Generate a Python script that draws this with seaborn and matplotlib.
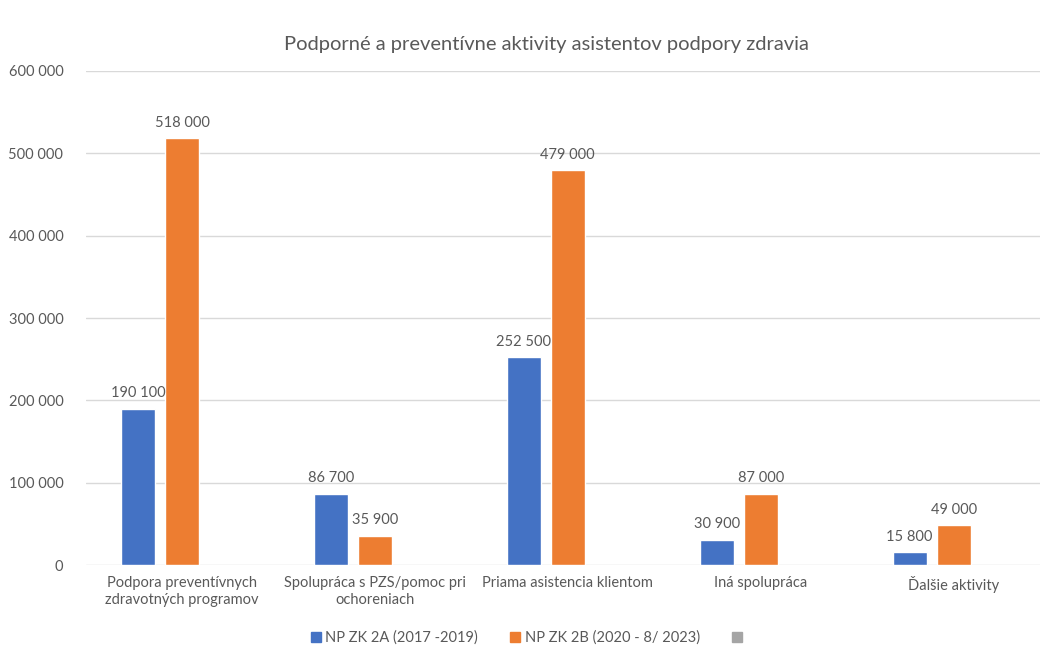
import pandas as pd
import matplotlib.pyplot as plt
import matplotlib.patches as mpatches
import seaborn as sns

categories = ["Podpora preventívnych\nzdravotných programov",
              "Spolupráca s PZS/pomoc pri\nochoreniach",
              "Priama asistencia klientom",
              "Iná spolupráca",
              "Ďalšie aktivity"]
series_a = [190100, 86700, 252500, 30900, 15800]
series_b = [518000, 35900, 479000, 87000, 49000]
label_a = "NP ZK 2A (2017 -2019)"
label_b = "NP ZK 2B (2020 - 8/ 2023)"
label_c = " "
y_ticks = [0, 100000, 200000, 300000, 400000, 500000, 600000]

colors = {label_a: "#4472C4", label_b: "#ED7D31", label_c: "#A5A5A5"}
text_color = "#595959"

df = pd.DataFrame({
    "kategoria": categories * 2,
    "hodnota": series_a + series_b,
    "seria": [label_a] * len(categories) + [label_b] * len(categories),
})

sns.set_style("white")
plt.rcParams['font.family'] = ['Lato', 'DejaVu Sans']

def fmt(v):
    return f"{int(v):,}".replace(",", " ")

fig = plt.figure(figsize=(10.61, 6.55), dpi=100)
ax = fig.add_axes([0.0806, 0.137, 0.9, 0.755])

sns.barplot(data=df, x="kategoria", y="hodnota", hue="seria",
            order=categories, hue_order=[label_a, label_b, label_c],
            palette=colors, saturation=1, width=0.684, gap=0.23,
            legend=False, ax=ax)

# value labels
for cont in ax.containers:
    ax.bar_label(cont, labels=[fmt(b.get_height()) for b in cont],
                 padding=6, fontsize=10.5, color=text_color)

ax.set_ylim(0, 600000)
ax.set_yticks(y_ticks)
ax.set_yticklabels([fmt(t) for t in y_ticks])
ax.yaxis.grid(True, color="#D9D9D9", linewidth=1)
ax.set_axisbelow(True)
for s in ax.spines.values():
    s.set_visible(False)
ax.set_xlabel("")
ax.set_ylabel("")
ax.tick_params(axis='both', length=0, labelsize=10.5, labelcolor=text_color)
ax.tick_params(axis='y', pad=16)
ax.tick_params(axis='x', pad=8)
ax.set_xlim(-0.5, len(categories) - 0.55)

fig.text(0.515, 0.932, "Podporné a preventívne aktivity asistentov podpory zdravia",
         ha="center", va="center", fontsize=14.5, color=text_color)

handles = [mpatches.Patch(color=colors[l], label=l) for l in [label_a, label_b, label_c]]
fig.legend(handles=handles, loc="center", bbox_to_anchor=(0.5, 0.026), ncol=3,
           frameon=False, fontsize=10.5, handlelength=0.7, handleheight=0.7,
           columnspacing=2.2, handletextpad=0.3, labelcolor=text_color)

fig.savefig("out.png", dpi=100, facecolor="white")
